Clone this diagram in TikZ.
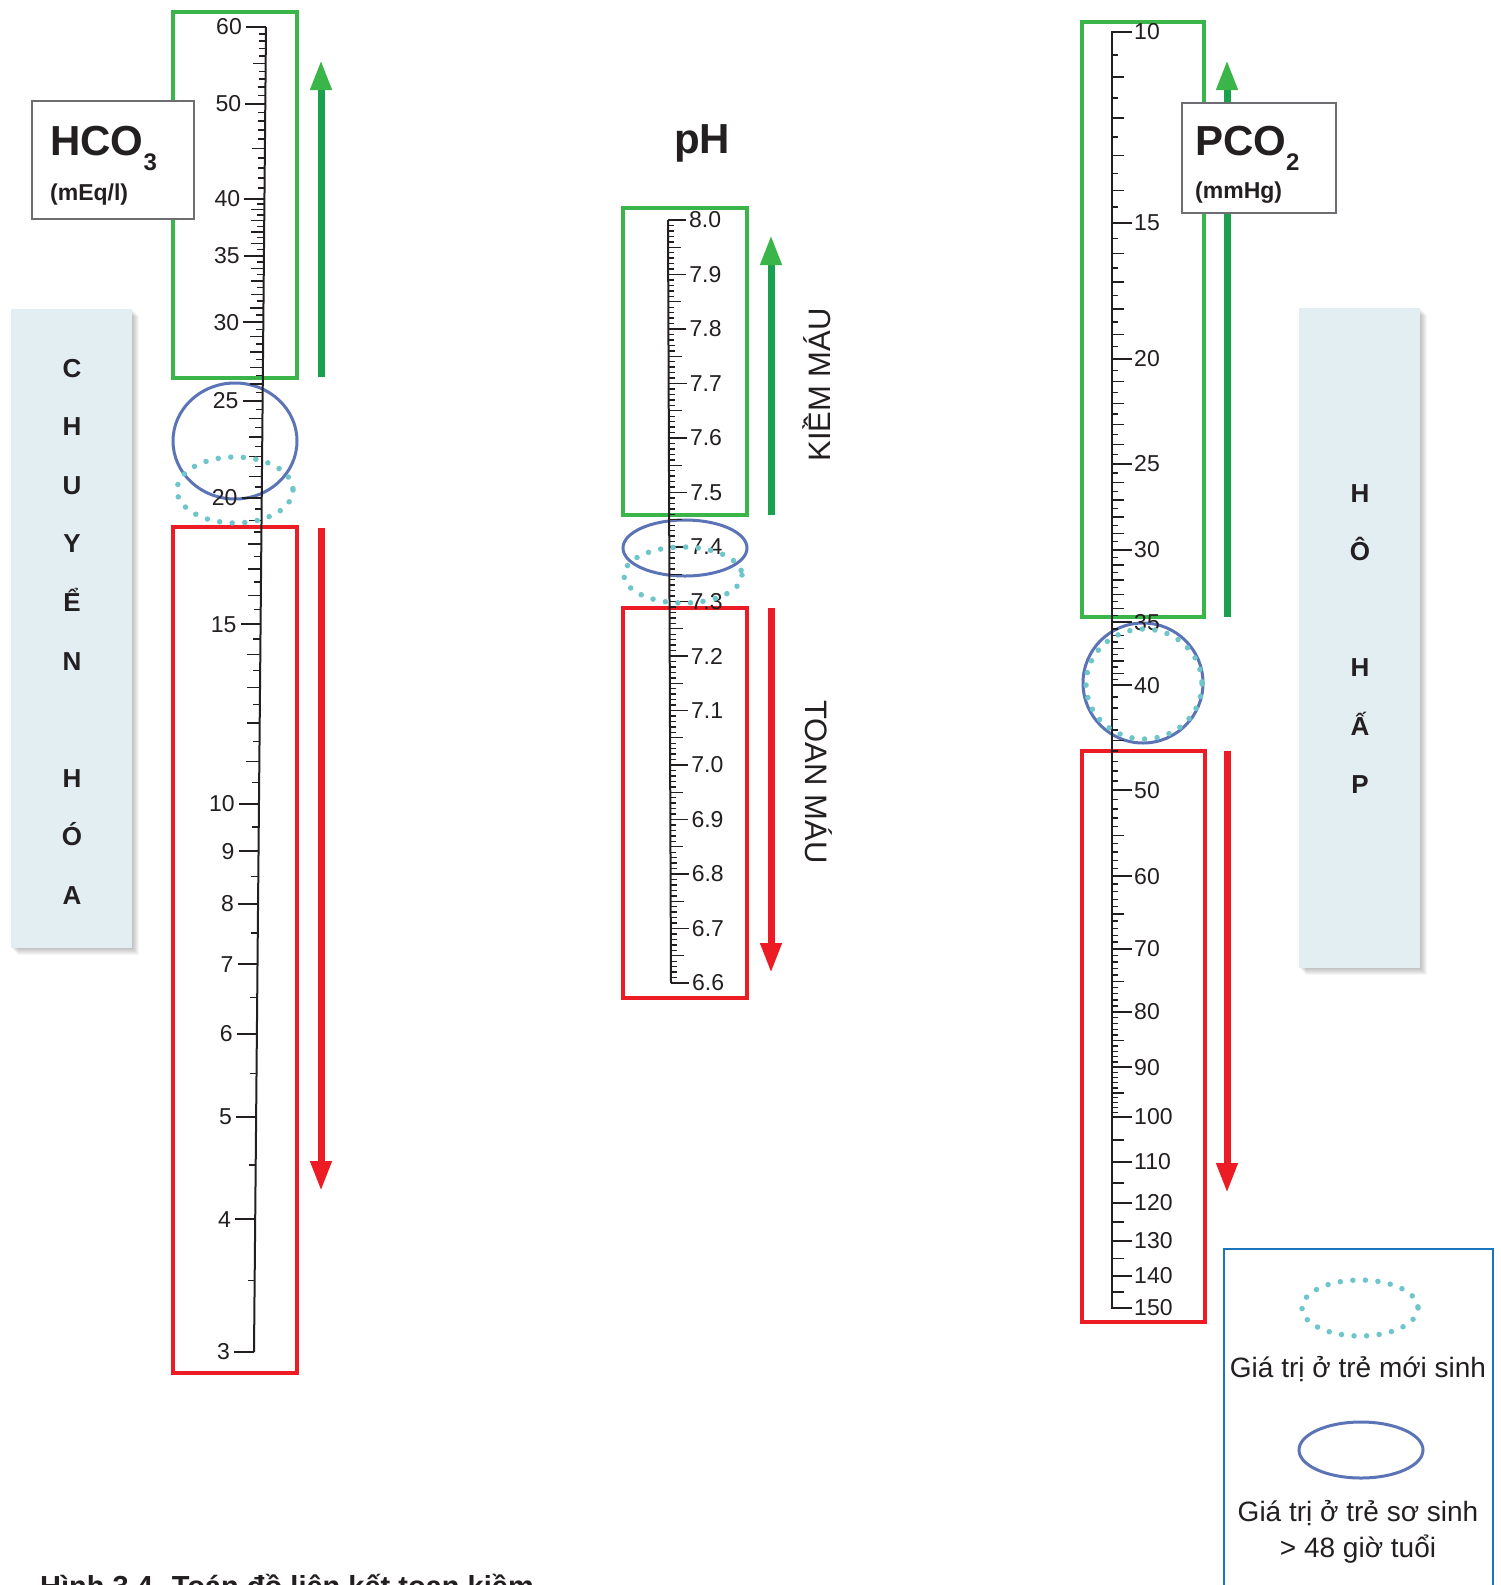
\documentclass[tikz,border=0pt]{standalone}
\usepackage{fontspec}
\setmainfont{Liberation Sans}
\usepackage{tikz}
\usetikzlibrary{arrows.meta}
\definecolor{kiem}{HTML}{3AB54A}
\definecolor{kiemdark}{HTML}{1BA14E}
\definecolor{toan}{HTML}{ED1C24}
\definecolor{ring}{HTML}{5B74B6}
\definecolor{dotc}{HTML}{6EC6CB}
\definecolor{panel}{HTML}{E3EEF3}
\definecolor{legc}{HTML}{1A75BC}
\definecolor{boxgray}{HTML}{6D6E71}
\definecolor{ink}{HTML}{231F20}

\begin{document}
\begin{tikzpicture}[x=1pt, y=-1pt, text=ink,
  numlab/.style={font=\fontsize{23}{26}\selectfont, inner sep=0pt},
  axisln/.style={draw=ink, line width=2pt},
  tk/.style={draw=ink, line width=1.4pt},
  tkmaj/.style={draw=ink, line width=2pt},
  okbox/.style={draw=kiem, line width=4pt},
  badbox/.style={draw=toan, line width=4pt},
  upar/.style={kiemdark, line width=7pt, -{Triangle[width=20pt,length=30pt,color=kiem]}},
  downar/.style={toan, line width=7pt, -{Triangle[width=20pt,length=30pt]}},
  ring48/.style={draw=ring, line width=3pt},
  ringnew/.style={draw=dotc, line width=5.5pt, line cap=round, dash pattern=on 0pt off 12.6pt},
  namebox/.style={draw=boxgray, line width=1.2pt, fill=white, inner sep=0pt},
  bigname/.style={font=\fontsize{42}{46}\selectfont\bfseries, inner sep=0pt},
  unitlab/.style={font=\fontsize{23}{26}\selectfont\bfseries, inner sep=0pt},
  sidelab/.style={font=\fontsize{26}{28}\selectfont\bfseries, inner sep=0pt},
  statelab/.style={font=\fontsize{31}{34}\selectfont, inner sep=0pt},
  legtext/.style={font=\fontsize{28}{36}\selectfont, inner sep=0pt, align=center}]
  \useasboundingbox (0,0) rectangle (1501,1585);
  \clip (0,0) rectangle (1501,1585);
  \fill[white] (0,0) rectangle (1501,1585);

  % side panels
  \foreach \s in {1,...,7} {
    \fill[black, opacity=0.035] (11+\s,309+\s) rectangle (132+\s,948+\s);
    \fill[black, opacity=0.035] (1299+\s,308+\s) rectangle (1420+\s,968+\s);
  }
  \fill[panel] (11,309) rectangle (132,948);
  \fill[panel] (1299,308) rectangle (1420,968);
  \foreach \ch/\k in {C/0,H/1,U/2,Y/3,Ể/4,N/5,H/7,Ó/8,A/9}
    \node[sidelab, anchor=base] (chuyen\k) at (72,{377+58.6*\k}) {\ch};
  \foreach \ch/\k in {H/0,Ô/1,H/3,Ấ/4,P/5}
    \node[sidelab, anchor=base] (hohap\k) at (1360,{502+58.3*\k}) {\ch};

  % HCO3 scale
  \begin{scope}
    \draw[okbox] (173,12) rectangle (297,378);
    \draw[badbox] (173,527) rectangle (297,1373);
    \draw[upar] (321,377) -- (321,60);
    \draw[downar] (321,528) -- (321,1191);
    \draw[ring48] (235,441) ellipse [x radius=62, y radius=58];
    \draw[axisln] (266,27) -- (254,1352);
    \foreach \lo/\st/\hi/\len in {3.5/4.5/39.5/7, 41/42/59/7, 11/12/39/13, 45/55/55/13}
      \foreach \v in {\lo,\st,...,\hi} {
        \pgfmathsetmacro\yy{1869.9-1103.6*log10(\v)+37.7*log10(\v)*log10(\v)}
        \pgfmathsetmacro\xx{266-12*(\yy-27)/1325}
        \draw[tk] (\xx,\yy) -- ++(-\len,0);
      }
    \foreach \v in {3,4,5,6,7,8,9,10,15,20,25,30,35,40,50,60} {
      \pgfmathsetmacro\yy{1869.9-1103.6*log10(\v)+37.7*log10(\v)*log10(\v)}
      \pgfmathsetmacro\xx{266-12*(\yy-27)/1325}
      \draw[tkmaj] (\xx,\yy) -- ++(-20,0);
      \node[numlab, anchor=east] (hco\v) at ({\xx-24},\yy) {\v};
    }
    \node[namebox, minimum width=162pt, minimum height=118pt] (hcobox) at (113,160) {};
    \node[bigname, anchor=base west] (hconame) at (50,155) {HCO\raisebox{-15pt}{\fontsize{24}{24}\selectfont 3}};
    \node[unitlab, anchor=base west] (hcounit) at (50,200) {(mEq/l)};
  \end{scope}

  % pH scale
  \begin{scope}
    \node[bigname, anchor=base] (phname) at (702,153) {pH};
    \draw[okbox] (623,208) rectangle (747,515);
    \draw[badbox] (623,608) rectangle (747,998);
    \draw[upar] (771,515) -- (771,235);
    \draw[downar] (771,608) -- (771,973);
    \node[statelab, rotate=90, anchor=base] (kiemlab) at (830,385) {KIỀM MÁU};
    \node[statelab, rotate=-90, anchor=base] (toanlab) at (805,782) {TOAN MÁU};
    \draw[ring48] (685,548) ellipse [x radius=62, y radius=28];
    \draw[axisln] (668,220) -- (671,983);
    \foreach \i in {660,...,800} {
      \pgfmathsetmacro\yy{220+(800-\i)*5.45}
      \pgfmathsetmacro\xx{668+3*(\yy-220)/763}
      \pgfmathsetmacro\len{mod(\i,10)==0 ? 18 : (mod(\i,5)==0 ? 13 : 6)}
      \draw[tk] (\xx,\yy) -- ++(\len,0);
    }
    \foreach \v [count=\k] in {8.0,7.9,7.8,7.7,7.6,7.5,7.4,7.3,7.2,7.1,7.0,6.9,6.8,6.7,6.6} {
      \pgfmathsetmacro\yy{220+(8.0-\v)*545}
      \pgfmathsetmacro\xx{668+3*(\yy-220)/763}
      \node[numlab, anchor=west] (ph\k) at ({\xx+21},\yy) {\v};
    }
  \end{scope}

  % PCO2 scale
  \begin{scope}
    \draw[okbox] (1082,22) rectangle (1204,617);
    \draw[badbox] (1082,751) rectangle (1205,1322);
    \draw[upar] (1227,617) -- (1227,60);
    \draw[downar] (1227,751) -- (1227,1193);
    \draw[ring48] (1143,683) circle [radius=60];
    \draw[axisln] (1112,31) -- (1112,1309);
    \foreach \lo/\st/\hi/\len in {10.5/11.5/39.5/6, 11/12/39/12, 41/42/99/6, 45/55/95/12, 105/115/145/12}
      \foreach \v in {\lo,\st,...,\hi} {
        \pgfmathsetmacro\yy{32+1085*log10(\v/10)}
        \draw[tk] (1112,\yy) -- ++(\len,0);
      }
    \foreach \v in {10,15,20,25,30,35,40,50,60,70,80,90,100,110,120,130,140,150} {
      \pgfmathsetmacro\yy{32+1085*log10(\v/10)}
      \draw[tkmaj] (1112,\yy) -- ++(20,0);
      \node[numlab, anchor=west] (pco\v) at (1134,\yy) {\v};
    }
    \node[namebox, minimum width=154pt, minimum height=110pt] (pcobox) at (1259,158) {};
    \node[bigname, anchor=base west] (pconame) at (1195,155) {PCO\raisebox{-15pt}{\fontsize{24}{24}\selectfont 2}};
    \node[unitlab, anchor=base west] (pcounit) at (1195,198) {(mmHg)};
  \end{scope}

  % newborn rings on top
  \draw[ringnew] (235,490) ellipse [x radius=58, y radius=33];
  \draw[ringnew] (683,575) ellipse [x radius=59, y radius=28];
  \draw[ringnew] (1144,684) ellipse [x radius=58, y radius=55];

  % legend
  \draw[legc, line width=2.5pt] (1224,1249) rectangle (1493,1610);
  \draw[ringnew] (1360,1308) ellipse [x radius=58, y radius=28];
  \node[legtext, anchor=base] (legnew) at (1358,1377) {Giá trị ở trẻ mới sinh};
  \draw[ring48] (1361,1450) ellipse [x radius=62, y radius=28];
  \node[legtext, anchor=base] (legold) at (1358,1557) {Giá trị ở trẻ sơ sinh\\> 48 giờ tuổi};

  % caption, cut by the page edge
  \node[font=\fontsize{29}{32}\selectfont\bfseries, inner sep=0pt, anchor=base west] (caption) at (40,1596) {Hình 3.4. Toán đồ liên kết toan kiềm};
\end{tikzpicture}
\end{document}
